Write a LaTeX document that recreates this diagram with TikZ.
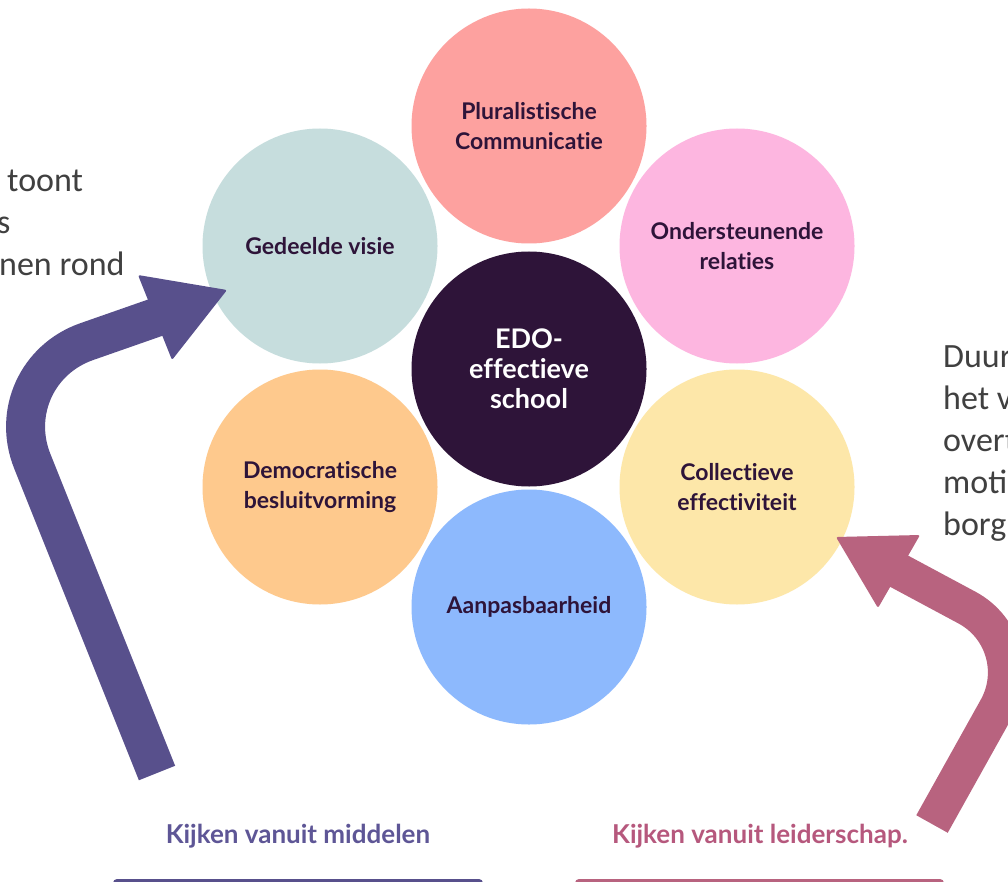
\documentclass[tikz,border=0pt]{standalone}
\usepackage{fontspec}
\setmainfont{Lato}[Ligatures={NoCommon}]
\newfontfamily\bodyfont{Carlito}
\definecolor{purp}{HTML}{58508C}
\definecolor{pinkarr}{HTML}{B8637F}
\definecolor{salmon}{HTML}{FDA19F}
\definecolor{pinkc}{HTML}{FDB6E0}
\definecolor{mint}{HTML}{C6DDDD}
\definecolor{orangec}{HTML}{FEC98D}
\definecolor{yellowc}{HTML}{FDE7A9}
\definecolor{bluec}{HTML}{8DB9FD}
\definecolor{darkc}{HTML}{2E1439}
\definecolor{grayt}{HTML}{404040}
\definecolor{purpt}{HTML}{5E5696}
\definecolor{pinkt}{HTML}{B6587D}
\tikzset{
  disc/.style={circle, minimum size=235pt, inner sep=0pt, align=center,
    text=darkc, font=\fontsize{23}{30}\selectfont\bfseries},
  sidetext/.style={anchor=base west, inner sep=0pt, text=grayt,
    font=\bodyfont\fontsize{34}{42}\selectfont},
  bottomlbl/.style={anchor=base, inner sep=0pt, font=\fontsize{26}{30}\selectfont\bfseries},
}
\begin{document}
\begin{tikzpicture}[x=1pt,y=-1pt]
\useasboundingbox (0,0) rectangle (1008,882);
\fill[white] (0,0) rectangle (1008,882);

% circles
\node[disc, fill=salmon] (plur) at (529,126) {Pluralistische\\Communicatie};
\node[disc, fill=mint] (visie) at (320,246) {Gedeelde visie};
\node[disc, fill=pinkc] (onder) at (737,246) {Ondersteunende\\relaties};
\node[disc, fill=darkc, text=white, font=\fontsize{27}{30}\selectfont\bfseries] (edo) at (529,369) {EDO-\\effectieve\\school};
\node[disc, fill=orangec] (demo) at (320,487) {Democratische\\besluitvorming};
\node[disc, fill=yellowc] (coll) at (737,487) {Collectieve\\effectiviteit};
\node[disc, fill=bluec] (aanp) at (529,607) {Aanpasbaarheid};

% side texts (cut off by the page edge)
\node[sidetext] (l1) at (7,192) {toont};
\node[sidetext] (l2) at (-3,234) {s};
\node[sidetext] (l3) at (-1,276) {nen rond};
\node[sidetext] (r1) at (943,367) {Duur};
\node[sidetext] (r2) at (943,409) {het v};
\node[sidetext] (r3) at (943,451) {overt};
\node[sidetext] (r4) at (943,493) {moti};
\node[sidetext] (r5) at (943,535) {borg};

% bottom labels
\node[bottomlbl, text=purpt] (lblm) at (298,843) {Kijken vanuit middelen};
\node[bottomlbl, text=pinkt] (lbll) at (760,843) {Kijken vanuit leiderschap.};
\fill[purp, rounded corners=4pt] (113,879) rectangle (483,895);
\fill[pinkarr, rounded corners=4pt] (575,879) rectangle (944,895);

% purple arrow
\coordinate (pt) at (157,773);
\coordinate (pc) at (-3,373);
\coordinate (pb) at (160,316);
\coordinate (ph1) at (138,275);
\coordinate (ph2) at (172,360);
\coordinate (ptip) at (227,290);
\draw[line width=39pt, purp, rounded corners=95pt] (pt) -- (pc) -- (pb);
\fill[purp, rounded corners=2pt] (ph1) -- (ptip) -- (ph2) -- cycle;

% pink arrow
\coordinate (kt) at (932,824);
\coordinate (kc) at (1033,643);
\coordinate (kb) at (895,569);
\coordinate (kh1) at (878,608);
\coordinate (kh2) at (920,535);
\coordinate (ktip) at (836,537);
\draw[line width=36pt, pinkarr, rounded corners=75pt] (kt) -- (kc) -- (kb);
\fill[pinkarr, rounded corners=2pt] (kh1) -- (ktip) -- (kh2) -- cycle;
\end{tikzpicture}
\end{document}
